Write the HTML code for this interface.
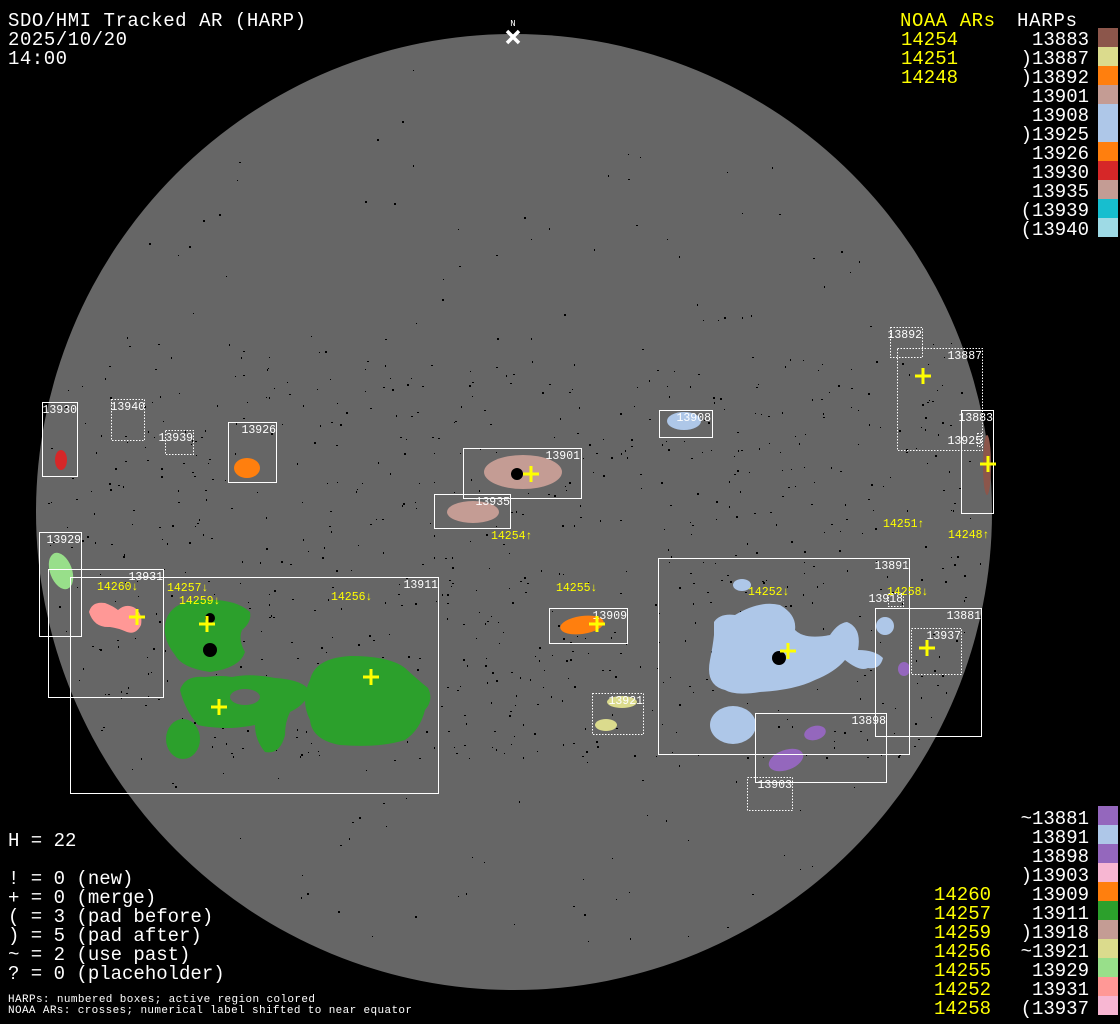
<!DOCTYPE html>
<html><head><meta charset="utf-8"><style>
html,body{margin:0;padding:0;background:#000;width:1120px;height:1024px;overflow:hidden}
svg{display:block}
text{font-family:"Liberation Mono","DejaVu Sans Mono",monospace}
.big{font-size:19px;fill:#fff}
.y{fill:#ff0}
.lab{font-size:11.5px;fill:#fff}
.ylab{font-size:11.5px;fill:#ff0}
.bx{fill:none;stroke:#fff;stroke-width:1}
.dt{fill:none;stroke:#fff;stroke-width:1;stroke-dasharray:1.5 1.5}
.cr{stroke:#ff0;stroke-width:3}
</style></head><body>
<svg id="s" width="1120" height="1024" viewBox="0 0 1120 1024" xmlns="http://www.w3.org/2000/svg">
<rect width="1120" height="1024" fill="#000"/>
<circle cx="514" cy="512" r="478" fill="#666"/>
<g id="dots"></g>
<text x="513" y="26" class="lab" text-anchor="middle" style="font-size:9px">N</text>
<path d="M507 31 L519 43 M519 31 L507 43" stroke="#fff" stroke-width="3.5"/>

<ellipse cx="61" cy="460" rx="6" ry="10" fill="#d62728"/>
<ellipse cx="247" cy="468" rx="13" ry="10" fill="#ff7f0e"/>
<ellipse cx="61" cy="571" rx="11" ry="19" fill="#98df8a" transform="rotate(-20 61 571)"/>
<path d="M89 612 Q92 601 105 603 Q113 606 118 610 Q126 603 135 608 Q143 614 141 625 Q136 635 127 632 Q118 628 110 627 Q94 628 89 612Z" fill="#ff9896"/>
<path d="M165 625 Q168 602 200 600 Q235 598 250 612 Q252 622 242 630 Q238 640 245 652 Q240 668 210 672 Q182 668 175 655 Q163 640 165 625Z" fill="#2ca02c"/>
<path d="M180 690 Q185 675 205 677 Q222 675 232 677 Q250 673 275 678 Q305 680 310 692 Q305 705 290 712 Q285 722 285 735 Q280 755 265 752 Q255 740 255 725 Q245 727 232 728 Q210 728 198 725 Q185 710 180 690Z" fill="#2ca02c"/>
<ellipse cx="245" cy="697" rx="15" ry="8" fill="#666"/>
<ellipse cx="183" cy="739" rx="17" ry="20" fill="#2ca02c"/>
<path d="M310 680 Q315 658 350 656 Q390 656 405 668 Q418 680 428 688 Q434 700 425 710 Q420 730 405 740 Q380 748 340 745 Q312 740 310 720 Q300 700 310 680Z" fill="#2ca02c"/>
<ellipse cx="523" cy="472" rx="39" ry="17" fill="#c49c94"/>
<circle cx="517" cy="474" r="6" fill="#000"/>
<ellipse cx="473" cy="512" rx="26" ry="11" fill="#c49c94"/>
<ellipse cx="582" cy="625" rx="22" ry="9" fill="#ff7f0e" transform="rotate(-8 582 625)"/>
<ellipse cx="622" cy="702" rx="15" ry="6" fill="#dbdb8d"/>
<ellipse cx="606" cy="725" rx="11" ry="6" fill="#dbdb8d"/>
<ellipse cx="684" cy="421" rx="17" ry="9" fill="#aec7e8"/>
<ellipse cx="742" cy="585" rx="9" ry="6" fill="#aec7e8"/>
<path d="M714 622 Q720 613 735 615 Q760 600 780 605 Q797 615 795 630 Q805 640 830 635 Q838 623 847 622 Q862 628 858 650 Q875 650 883 658 Q880 670 868 668 Q860 672 845 660 Q835 672 815 680 Q795 690 760 692 Q735 696 725 690 Q705 685 710 660 Q713 645 714 635Z" fill="#aec7e8"/>
<ellipse cx="885" cy="626" rx="9" ry="9" fill="#aec7e8"/>
<ellipse cx="733" cy="725" rx="23" ry="19" fill="#aec7e8"/>
<ellipse cx="904" cy="669" rx="6" ry="7" fill="#9467bd"/>
<ellipse cx="815" cy="733" rx="11" ry="7" fill="#9467bd" transform="rotate(-15 815 733)"/>
<ellipse cx="786" cy="760" rx="18" ry="10" fill="#9467bd" transform="rotate(-20 786 760)"/>
<ellipse cx="987" cy="465" rx="4" ry="30" fill="#8c564b"/>
<circle cx="779" cy="658" r="7" fill="#000"/>
<circle cx="210" cy="650" r="7" fill="#000"/>
<circle cx="210" cy="618" r="5" fill="#000"/>

<rect class="bx" x="42.5" y="402.5" width="35" height="74"/>
<rect class="dt" x="111.5" y="399.5" width="33" height="41"/>
<rect class="dt" x="165.5" y="430.5" width="28" height="24"/>
<rect class="bx" x="228.5" y="422.5" width="48" height="60"/>
<rect class="bx" x="39.5" y="532.5" width="42" height="104"/>
<rect class="bx" x="48.5" y="569.5" width="115" height="128"/>
<rect class="bx" x="70.5" y="577.5" width="368" height="216"/>
<rect class="bx" x="463.5" y="448.5" width="118" height="50"/>
<rect class="bx" x="434.5" y="494.5" width="76" height="34"/>
<rect class="bx" x="549.5" y="608.5" width="78" height="35"/>
<rect class="dt" x="592.5" y="693.5" width="51" height="41"/>
<rect class="bx" x="659.5" y="410.5" width="53" height="27"/>
<rect class="dt" x="890.5" y="327.5" width="32" height="30"/>
<rect class="dt" x="897.5" y="348.5" width="85" height="102"/>
<rect class="bx" x="961.5" y="410.5" width="32" height="103"/>
<rect class="dt" x="977.5" y="433.5" width="4" height="13"/>
<rect class="bx" x="658.5" y="558.5" width="251" height="196"/>
<rect class="bx" x="875.5" y="608.5" width="106" height="128"/>
<rect class="dt" x="911.5" y="628.5" width="50" height="46"/>
<rect class="dt" x="888.5" y="593.5" width="15" height="13"/>
<rect class="bx" x="755.5" y="713.5" width="131" height="69"/>
<rect class="dt" x="747.5" y="777.5" width="45" height="33"/>

<g class="lab" text-anchor="end">
<text x="77" y="413">13930</text>
<text x="145" y="410">13940</text>
<text x="193" y="441">13939</text>
<text x="276" y="433">13926</text>
<text x="81" y="543">13929</text>
<text x="163" y="580">13931</text>
<text x="438" y="588">13911</text>
<text x="580" y="459">13901</text>
<text x="510" y="505">13935</text>
<text x="627" y="619">13909</text>
<text x="643" y="704">13921</text>
<text x="711" y="421">13908</text>
<text x="922" y="338">13892</text>
<text x="982" y="359">13887</text>
<text x="993" y="421">13883</text>
<text x="982" y="444">13925</text>
<text x="909" y="569">13891</text>
<text x="903" y="602">13918</text>
<text x="981" y="619">13881</text>
<text x="961" y="639">13937</text>
<text x="886" y="724">13898</text>
<text x="792" y="788">13903</text>
</g>
<g class="ylab">
<text x="97" y="590">14260↓</text>
<text x="167" y="591">14257↓</text>
<text x="179" y="604">14259↓</text>
<text x="331" y="600">14256↓</text>
<text x="491" y="539">14254↑</text>
<text x="556" y="591">14255↓</text>
<text x="748" y="595">14252↓</text>
<text x="887" y="595">14258↓</text>
<text x="883" y="527">14251↑</text>
<text x="948" y="538">14248↑</text>
</g>
<g class="cr">
<path d="M129 617h16M137 609v16"/>
<path d="M199 624h16M207 616v16"/>
<path d="M211 707h16M219 699v16"/>
<path d="M363 677h16M371 669v16"/>
<path d="M523 474h16M531 466v16"/>
<path d="M589 624h16M597 616v16"/>
<path d="M915 376h16M923 368v16"/>
<path d="M980 464h16M988 456v16"/>
<path d="M780 651h16M788 643v16"/>
<path d="M919 648h16M927 640v16"/>
</g>

<text x="8" y="26" class="big" textLength="298">SDO/HMI Tracked AR (HARP)</text>
<text x="8" y="45" class="big" textLength="119">2025/10/20</text>
<text x="8" y="64" class="big" textLength="59">14:00</text>

<text x="900" y="26" class="big y" textLength="95">NOAA ARs</text>
<text x="1017" y="26" class="big" textLength="60">HARPs</text>
<g class="big y"><text x="901" y="45">14254</text><text x="901" y="64">14251</text><text x="901" y="83">14248</text></g>
<g class="big" text-anchor="end">
<text x="1089" y="45">13883</text><text x="1089" y="64">)13887</text><text x="1089" y="83">)13892</text><text x="1089" y="102">13901</text><text x="1089" y="121">13908</text><text x="1089" y="140">)13925</text><text x="1089" y="159">13926</text><text x="1089" y="178">13930</text><text x="1089" y="197">13935</text><text x="1089" y="216">(13939</text><text x="1089" y="235">(13940</text>
</g>
<rect x="1098" y="28" width="20" height="19" fill="#8c564b"/>
<rect x="1098" y="47" width="20" height="19" fill="#dbdb8d"/>
<rect x="1098" y="66" width="20" height="19" fill="#ff7f0e"/>
<rect x="1098" y="85" width="20" height="19" fill="#c49c94"/>
<rect x="1098" y="104" width="20" height="38" fill="#aec7e8"/>
<rect x="1098" y="142" width="20" height="19" fill="#ff7f0e"/>
<rect x="1098" y="161" width="20" height="19" fill="#d62728"/>
<rect x="1098" y="180" width="20" height="19" fill="#c49c94"/>
<rect x="1098" y="199" width="20" height="19" fill="#17becf"/>
<rect x="1098" y="218" width="20" height="19" fill="#9edae5"/>

<g class="big" text-anchor="end">
<text x="1089" y="824">~13881</text><text x="1089" y="843">13891</text><text x="1089" y="862">13898</text><text x="1089" y="881">)13903</text><text x="1089" y="900">13909</text><text x="1089" y="919">13911</text><text x="1089" y="938">)13918</text><text x="1089" y="957">~13921</text><text x="1089" y="976">13929</text><text x="1089" y="995">13931</text><text x="1089" y="1014">(13937</text>
</g>
<g class="big y">
<text x="934" y="900">14260</text><text x="934" y="919">14257</text><text x="934" y="938">14259</text><text x="934" y="957">14256</text><text x="934" y="976">14255</text><text x="934" y="995">14252</text><text x="934" y="1014">14258</text>
</g>
<rect x="1098" y="806" width="20" height="19" fill="#9467bd"/>
<rect x="1098" y="825" width="20" height="19" fill="#aec7e8"/>
<rect x="1098" y="844" width="20" height="19" fill="#9467bd"/>
<rect x="1098" y="863" width="20" height="19" fill="#f7b6d2"/>
<rect x="1098" y="882" width="20" height="19" fill="#ff7f0e"/>
<rect x="1098" y="901" width="20" height="19" fill="#2ca02c"/>
<rect x="1098" y="920" width="20" height="19" fill="#c49c94"/>
<rect x="1098" y="939" width="20" height="19" fill="#dbdb8d"/>
<rect x="1098" y="958" width="20" height="19" fill="#98df8a"/>
<rect x="1098" y="977" width="20" height="19" fill="#ff9896"/>
<rect x="1098" y="996" width="20" height="19" fill="#f7b6d2"/>

<g class="big">
<text x="8" y="846">H = 22</text>
<text x="8" y="884">! = 0 (new)</text>
<text x="8" y="903">+ = 0 (merge)</text>
<text x="8" y="922">( = 3 (pad before)</text>
<text x="8" y="941">) = 5 (pad after)</text>
<text x="8" y="960">~ = 2 (use past)</text>
<text x="8" y="979">? = 0 (placeholder)</text>
</g>
<text x="8" y="1002" class="lab" textLength="307" style="font-size:11px">HARPs: numbered boxes; active region colored</text>
<text x="8" y="1013" class="lab" textLength="404" style="font-size:11px">NOAA ARs: crosses; numerical label shifted to near equator</text>
</svg>
<script>
(function(){var g=document.getElementById('dots'),s=12345,h='';function r(){s=(s*16807)%2147483647;return s/2147483647;}
for(var i=0;i<1500;i++){var a=r()*6.2832,d=Math.sqrt(r())*470;var x=514+d*Math.cos(a),y=512+d*Math.sin(a);
var band=Math.abs(y-560);if(band>200&&r()<0.75)continue;if(y<250&&r()<0.6)continue;
h+='<rect x="'+x.toFixed(0)+'" y="'+y.toFixed(0)+'" width="'+(r()<0.6?1:2)+'" height="'+(r()<0.6?1:2)+'" fill="#000"/>';}
g.innerHTML=h;})();
</script>
</body></html>
